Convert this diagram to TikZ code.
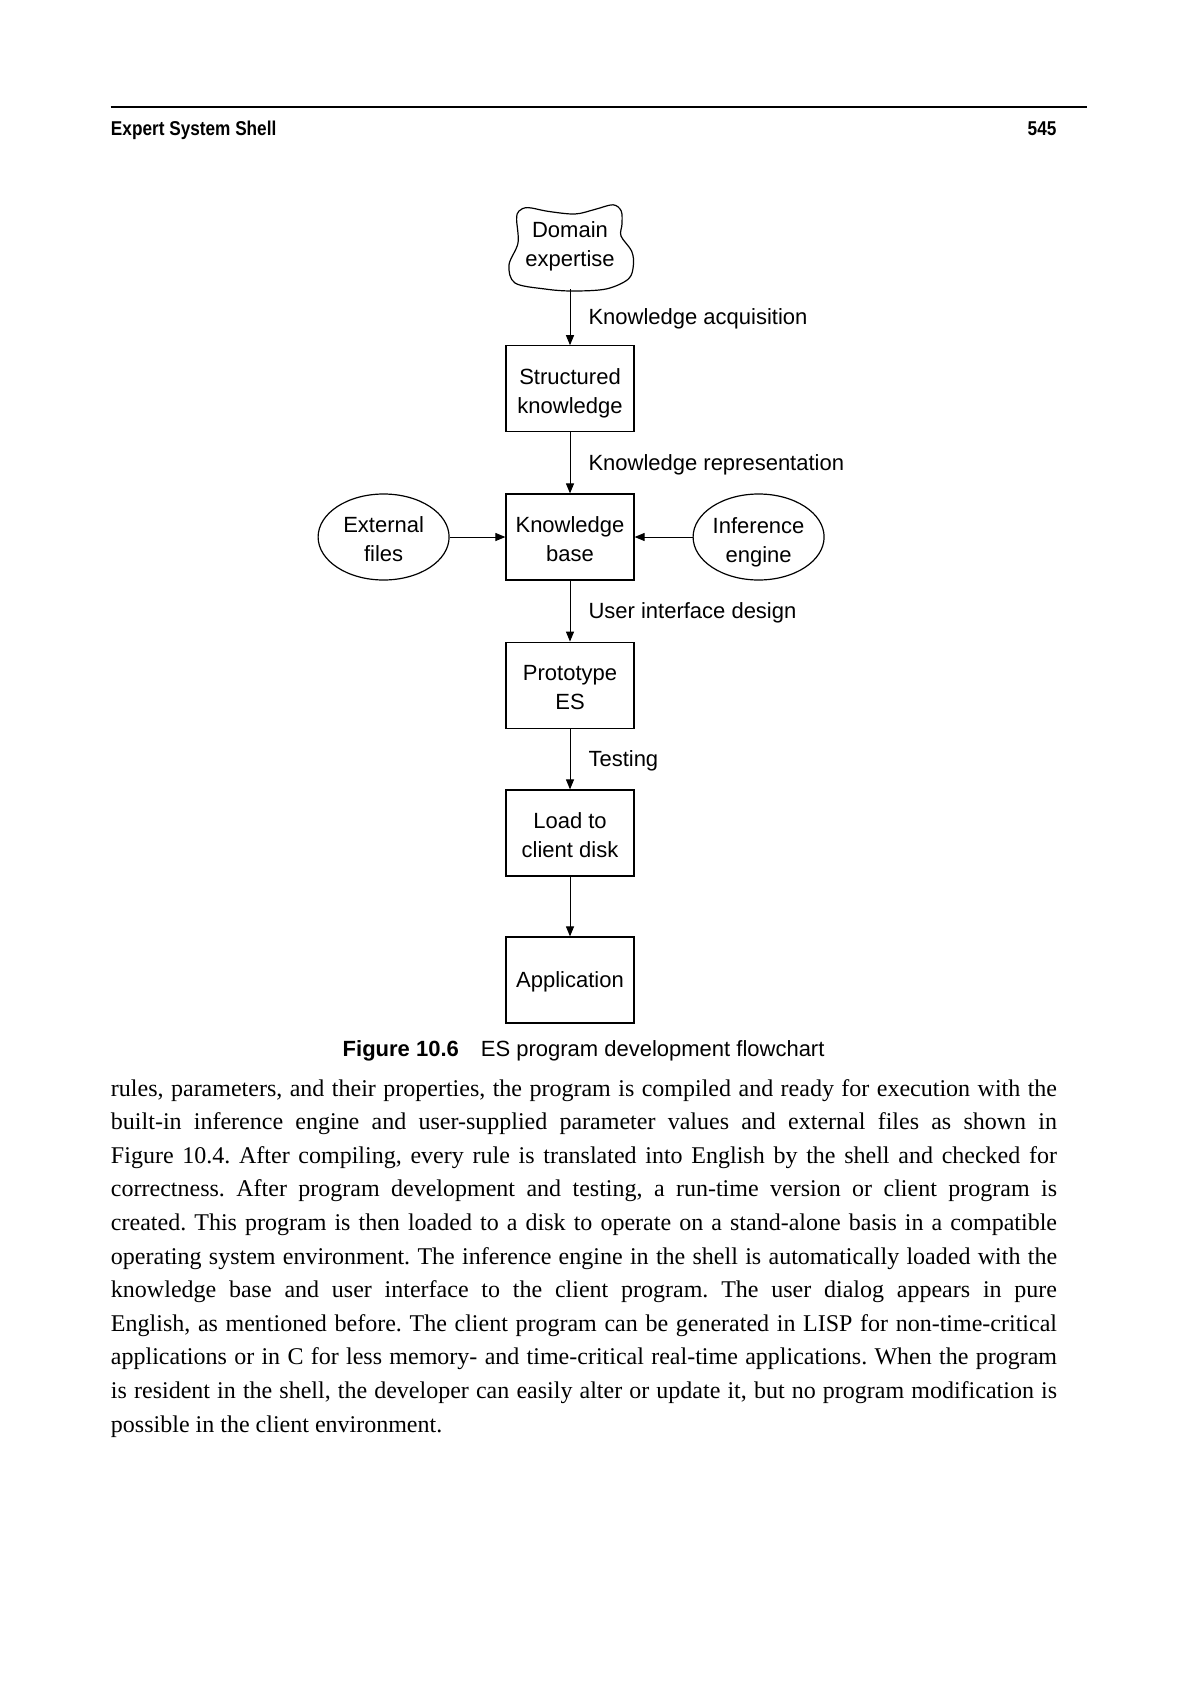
\documentclass[tikz,border=0pt]{standalone}
\usepackage{fontspec}
\setmainfont{Liberation Serif}
\setsansfont{Liberation Sans}
\newfontfamily\headfont{Liberation Sans}[FakeStretch=0.86]
\usetikzlibrary{arrows.meta,shapes.geometric}
\newcommand\jline[1]{\hbox to 473bp{#1}}
\newcommand\dn{\rule{0pt}{12bp}}
\newcommand\dnsmall{\rule{0pt}{9.8bp}}
\begin{document}
\begin{tikzpicture}[x=1bp,y=-1bp,
  dtext/.style={font=\sffamily\fontsize{11bp}{14.5bp}\selectfont, align=center},
  box/.style={dtext, draw, line width=0.6bp, minimum width=64bp, minimum height=43bp, inner sep=0},
  oval/.style={dtext, draw, ellipse, line width=0.6bp, minimum width=65.5bp, minimum height=43bp, inner sep=0},
  cloudtext/.style={dtext, minimum width=60bp, minimum height=43bp, inner sep=0},
  arr/.style={line width=0.5bp, -{Triangle[length=5bp,width=4bp]}},
  lbl/.style={anchor=west, inner sep=0, xshift=9bp, yshift=-1bp, font=\sffamily\fontsize{11bp}{13bp}\selectfont}]
\useasboundingbox (0,0) rectangle (595,842);
% page header
\draw[line width=1bp] (55.3,53.7) -- (543.5,53.7);
\node[anchor=base west, inner sep=0, font=\headfont\bfseries\fontsize{10bp}{12bp}\selectfont] (head) at (55.3,67.8) {Expert System Shell};
\node[anchor=base east, inner sep=0, font=\headfont\bfseries\fontsize{10bp}{12bp}\selectfont] (pagenum) at (528.4,67.8) {545};
% diagram
\node[cloudtext] (dom) at (285,123) {Domain\\expertise};
\draw[line width=0.6bp, shift={(285,124)}] plot[smooth cycle, tension=0.55] coordinates {(-25.5,-18.5) (-21,-20.2) (-10.8,-18.3) (2.5,-17) (12.5,-19.3) (21.5,-21.6) (25.6,-18.5) (26,-12) (25.5,-6) (30.8,1.5) (31.7,8.5) (29.2,15.5) (18,20.5) (1,21.5) (-12.5,20.5) (-27.5,17.5) (-30.5,8.5) (-26,-2.5) (-26.7,-14.5)};
\node[box] (sk) at (285,194.4) {\dn Structured\\knowledge};
\node[box] (kb) at (285,268.5) {\dnsmall Knowledge\\base};
\node[oval] (ext) at (191.8,268.5) {\dnsmall External\\files};
\node[oval] (inf) at (379.3,268.5) {\rule{0pt}{13bp}Inference\\engine};
\node[box] (proto) at (285,342.6) {\dnsmall Prototype\\ES};
\node[box] (load) at (285,416.5) {\dnsmall Load to\\client disk};
\node[box] (app) at (285,490) {\rule{0pt}{10bp}Application};
\draw[arr] (dom) -- node[lbl] {Knowledge acquisition} (sk);
\draw[arr] (sk) -- node[lbl] {Knowledge representation} (kb);
\draw[arr] (ext) -- (kb);
\draw[arr] (inf) -- (kb);
\draw[arr] (kb) -- node[lbl] {User interface design} (proto);
\draw[arr] (proto) -- node[lbl] {Testing} (load);
\draw[arr] (load) -- (app);
% caption
\node[anchor=base, inner sep=0, font=\sffamily\fontsize{11bp}{13bp}\selectfont] (cap) at (291.8,528) {\textbf{Figure 10.6}\quad ES program development flowchart};
% body text
\node[anchor=base west, inner sep=0, font=\fontsize{12bp}{16.8bp}\selectfont] (body) at (55.3,548) {\frenchspacing\vtop{\baselineskip=16.8bp
\jline{rules, parameters, and their properties, the program is compiled and ready for execution with the}
\jline{built-in inference engine and user-supplied parameter values and external files as shown in}
\jline{Figure 10.4. After compiling, every rule is translated into English by the shell and checked for}
\jline{correctness. After program development and testing, a run-time version or client program is}
\jline{created. This program is then loaded to a disk to operate on a stand-alone basis in a compatible}
\jline{operating system environment. The inference engine in the shell is automatically loaded with the}
\jline{knowledge base and user interface to the client program. The user dialog appears in pure}
\jline{English, as mentioned before. The client program can be generated in LISP for non-time-critical}
\jline{applications or in C for less memory- and time-critical real-time applications. When the program}
\jline{is resident in the shell, the developer can easily alter or update it, but no program modification is}
\hbox{possible in the client environment.}}};
\end{tikzpicture}
\end{document}
